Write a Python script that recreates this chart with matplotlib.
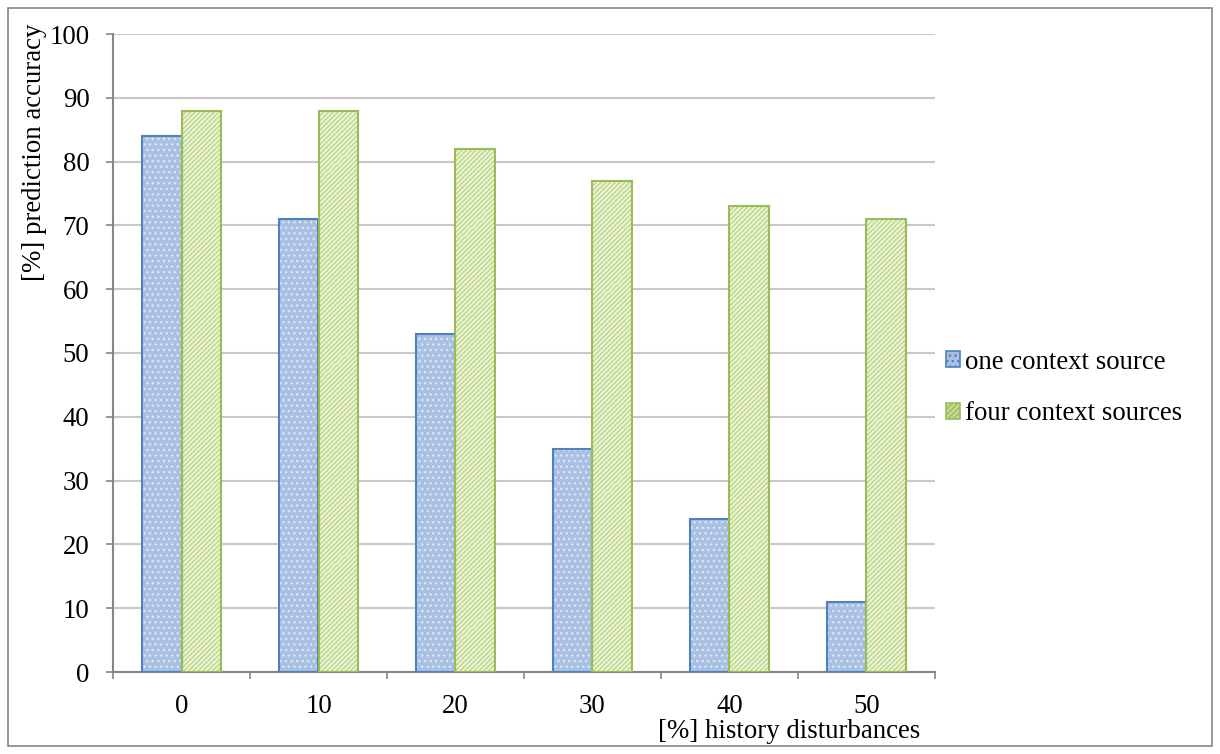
import matplotlib
matplotlib.use("Agg")
import matplotlib.pyplot as plt
from matplotlib.patches import Rectangle
import numpy as np

categories = ["0", "10", "20", "30", "40", "50"]
one_source = [84, 71, 53, 35, 24, 11]
four_sources = [88, 88, 82, 77, 73, 71]
series_names = ["one context source", "four context sources"]
y_ticks = [0, 10, 20, 30, 40, 50, 60, 70, 80, 90, 100]

plt.rcParams['font.family'] = ['Liberation Serif', 'DejaVu Serif']
plt.rcParams['hatch.linewidth'] = 1.0

FS = 19.3

fig = plt.figure(figsize=(12.2, 7.54), dpi=100)
ax = fig.add_axes([113/1220, 1-672/754, (935-113)/1220, (672-34)/754])

x = np.arange(len(categories))
w = 0.285

blue_face, blue_edge, blue_hatch = "#a9c0e3", "#4f81bd", "#dce6f4"
green_face, green_edge, green_hatch = "#c4dc93", "#9bbb59", "#f4f9e8"

ax.bar(x - w/2, one_source, w, facecolor=blue_face, edgecolor=blue_hatch,
       hatch="...", linewidth=0, zorder=3)
ax.bar(x - w/2, one_source, w, facecolor="none", edgecolor=blue_edge,
       linewidth=1.5, zorder=4)
ax.bar(x + w/2, four_sources, w, facecolor=green_face, edgecolor=green_hatch,
       hatch="///////", linewidth=0, zorder=3)
ax.bar(x + w/2, four_sources, w, facecolor="none", edgecolor=green_edge,
       linewidth=1.5, zorder=4)

ax.set_xlim(-0.5, len(categories) - 0.5)
ax.set_ylim(0, 100)
ax.set_yticks(y_ticks)
ax.set_yticklabels([str(v) for v in y_ticks])
ax.set_xticks(x)
ax.set_xticklabels(categories)
ax.set_xticks(np.arange(len(categories) + 1) - 0.5, minor=True)
ax.tick_params(axis='x', which='major', length=0, pad=16, labelsize=FS)
ax.tick_params(axis='x', which='minor', length=5, width=1.2, color="#868686", direction='out')
ax.tick_params(axis='y', length=5, width=1.2, color="#868686", direction='out', pad=12, labelsize=FS)

ax.grid(axis='y', color="#c8c8c8", linewidth=1.5, zorder=0)
ax.set_axisbelow(True)
for s in ["top", "right"]:
    ax.spines[s].set_visible(False)
for s in ["left", "bottom"]:
    ax.spines[s].set_color("#868686")
    ax.spines[s].set_linewidth(1.5)

fig.text(35/1220, 1-152/754, "[%] prediction accuracy", rotation=90,
         ha="center", va="center", fontsize=FS)
fig.text(920/1220, 1-732/754, "[%] history disturbances",
         ha="right", va="center", fontsize=FS)

handles = [Rectangle((0, 0), 1, 1, facecolor=blue_face, edgecolor=blue_edge, hatch="...", linewidth=1.2),
           Rectangle((0, 0), 1, 1, facecolor=green_face, edgecolor=green_edge, hatch="//////", linewidth=1.2)]
fig.legend(handles, series_names, loc="center left",
           bbox_to_anchor=(935/1220, 1-388/754), frameon=False, fontsize=FS,
           handlelength=0.53, handleheight=0.53, handletextpad=0.2, labelspacing=0.98,
           borderaxespad=0)

fig.patches.append(Rectangle((8/1220, 8/754), (1212-8)/1220, (746-8)/754,
                             transform=fig.transFigure, fill=False,
                             edgecolor="#868686", linewidth=1.2))

fig.savefig("out.png", dpi=100)
